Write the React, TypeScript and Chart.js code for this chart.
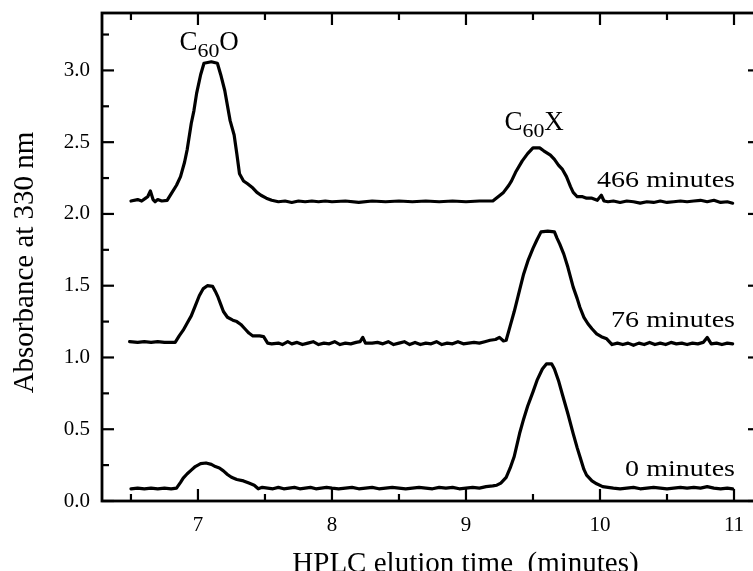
import React, { useEffect, useRef } from "react";
import { Chart, registerables } from "chart.js";

Chart.register(...registerables);

// ---- Data ----
const t466X = [6.5, 6.55, 6.58, 6.61, 6.625, 6.645, 6.665, 6.68, 6.7, 6.73, 6.77, 6.8, 6.84, 6.87, 6.9, 6.92, 6.95, 6.97, 6.99, 7.02, 7.045, 7.1, 7.145, 7.17, 7.2, 7.24, 7.27, 7.29, 7.31, 7.34, 7.37, 7.41, 7.44, 7.47, 7.51, 7.55, 7.6, 7.65, 7.7, 7.75, 7.8, 7.85, 7.9, 7.95, 8.0, 8.1, 8.2, 8.3, 8.4, 8.5, 8.6, 8.7, 8.8, 8.9, 9.0, 9.1, 9.2, 9.24, 9.28, 9.32, 9.34, 9.37, 9.42, 9.46, 9.5, 9.55, 9.58, 9.63, 9.66, 9.69, 9.72, 9.75, 9.78, 9.8, 9.83, 9.87, 9.9, 9.94, 9.98, 10.01, 10.03, 10.06, 10.1, 10.15, 10.2, 10.25, 10.3, 10.35, 10.4, 10.45, 10.5, 10.55, 10.6, 10.65, 10.7, 10.75, 10.8, 10.85, 10.9, 10.95, 10.99];
const t466Y = [2.09, 2.1, 2.09, 2.11, 2.12, 2.16, 2.1, 2.085, 2.1, 2.09, 2.095, 2.14, 2.2, 2.26, 2.36, 2.45, 2.63, 2.72, 2.84, 2.97, 3.05, 3.06, 3.05, 2.97, 2.86, 2.65, 2.55, 2.42, 2.28, 2.23, 2.21, 2.18, 2.15, 2.13, 2.11, 2.095, 2.085, 2.09, 2.08, 2.09, 2.085, 2.09, 2.085, 2.09, 2.085, 2.09, 2.08, 2.09, 2.085, 2.09, 2.085, 2.09, 2.085, 2.09, 2.085, 2.09, 2.09, 2.12, 2.15, 2.2, 2.23, 2.29, 2.37, 2.42, 2.46, 2.46, 2.44, 2.41, 2.38, 2.34, 2.31, 2.26, 2.19, 2.15, 2.12, 2.12, 2.11, 2.11, 2.095, 2.13, 2.09, 2.085, 2.09, 2.08, 2.09, 2.085, 2.075, 2.085, 2.08, 2.09, 2.08, 2.085, 2.09, 2.085, 2.09, 2.095, 2.085, 2.095, 2.08, 2.085, 2.075];

const t76X = [6.49, 6.55, 6.6, 6.65, 6.7, 6.75, 6.83, 6.86, 6.89, 6.92, 6.95, 6.98, 7.01, 7.04, 7.07, 7.11, 7.13, 7.15, 7.17, 7.19, 7.22, 7.26, 7.29, 7.32, 7.35, 7.38, 7.41, 7.46, 7.49, 7.52, 7.55, 7.6, 7.63, 7.67, 7.7, 7.74, 7.78, 7.82, 7.86, 7.9, 7.94, 7.98, 8.02, 8.06, 8.1, 8.14, 8.18, 8.21, 8.23, 8.25, 8.3, 8.34, 8.38, 8.42, 8.46, 8.5, 8.54, 8.58, 8.62, 8.66, 8.7, 8.74, 8.78, 8.82, 8.86, 8.9, 8.94, 8.98, 9.02, 9.06, 9.1, 9.14, 9.18, 9.22, 9.25, 9.28, 9.3, 9.33, 9.36, 9.4, 9.43, 9.465, 9.5, 9.53, 9.56, 9.61, 9.66, 9.68, 9.7, 9.73, 9.76, 9.78, 9.8, 9.83, 9.85, 9.88, 9.91, 9.94, 9.975, 10.01, 10.05, 10.09, 10.13, 10.17, 10.21, 10.25, 10.29, 10.33, 10.37, 10.41, 10.45, 10.49, 10.53, 10.57, 10.61, 10.65, 10.69, 10.73, 10.77, 10.8, 10.83, 10.87, 10.91, 10.95, 10.99];
const t76Y = [1.11, 1.105, 1.11, 1.105, 1.11, 1.105, 1.105, 1.15, 1.19, 1.24, 1.29, 1.36, 1.43, 1.48, 1.5, 1.495, 1.46, 1.42, 1.37, 1.32, 1.28, 1.26, 1.25, 1.23, 1.2, 1.17, 1.15, 1.15, 1.145, 1.1, 1.095, 1.1, 1.09, 1.11, 1.095, 1.105, 1.09, 1.1, 1.11, 1.09, 1.1, 1.095, 1.11, 1.09, 1.1, 1.095, 1.105, 1.11, 1.14, 1.1, 1.1, 1.105, 1.095, 1.11, 1.09, 1.1, 1.11, 1.09, 1.105, 1.09, 1.1, 1.095, 1.11, 1.09, 1.1, 1.095, 1.11, 1.095, 1.1, 1.105, 1.1, 1.11, 1.12, 1.125, 1.14, 1.115, 1.12, 1.22, 1.32, 1.47, 1.58, 1.68, 1.76, 1.82, 1.875, 1.88, 1.875, 1.83, 1.79, 1.72, 1.63, 1.56, 1.49, 1.41, 1.35, 1.28, 1.235, 1.2, 1.165, 1.145, 1.13, 1.09, 1.1, 1.09, 1.1, 1.085, 1.1, 1.09, 1.105, 1.09, 1.1, 1.09, 1.105, 1.095, 1.1, 1.09, 1.1, 1.095, 1.105, 1.14, 1.095, 1.1, 1.09, 1.1, 1.095];

const t0X = [6.5, 6.55, 6.6, 6.65, 6.7, 6.75, 6.8, 6.84, 6.87, 6.89, 6.92, 6.95, 6.98, 7.02, 7.06, 7.1, 7.13, 7.16, 7.19, 7.22, 7.25, 7.29, 7.34, 7.38, 7.42, 7.45, 7.48, 7.52, 7.56, 7.6, 7.64, 7.68, 7.72, 7.76, 7.8, 7.84, 7.88, 7.92, 7.96, 8.0, 8.05, 8.1, 8.15, 8.2, 8.25, 8.3, 8.35, 8.4, 8.45, 8.5, 8.55, 8.6, 8.65, 8.7, 8.75, 8.8, 8.85, 8.9, 8.95, 9.0, 9.05, 9.1, 9.15, 9.2, 9.23, 9.26, 9.3, 9.33, 9.36, 9.4, 9.43, 9.46, 9.5, 9.53, 9.57, 9.6, 9.64, 9.66, 9.69, 9.72, 9.76, 9.8, 9.83, 9.85, 9.88, 9.9, 9.94, 9.975, 10.02, 10.06, 10.1, 10.15, 10.2, 10.25, 10.3, 10.35, 10.4, 10.45, 10.5, 10.55, 10.6, 10.65, 10.7, 10.75, 10.8, 10.85, 10.9, 10.95, 10.99];
const t0Y = [0.085, 0.09, 0.085, 0.09, 0.085, 0.09, 0.085, 0.09, 0.13, 0.16, 0.19, 0.215, 0.24, 0.26, 0.265, 0.255, 0.24, 0.23, 0.21, 0.185, 0.165, 0.15, 0.14, 0.125, 0.11, 0.085, 0.095, 0.09, 0.085, 0.095, 0.085, 0.09, 0.095, 0.085, 0.09, 0.095, 0.085, 0.09, 0.095, 0.09, 0.085, 0.09, 0.095, 0.085, 0.09, 0.095, 0.085, 0.09, 0.095, 0.09, 0.085, 0.09, 0.095, 0.09, 0.085, 0.095, 0.09, 0.095, 0.085, 0.09, 0.095, 0.09, 0.1, 0.105, 0.11, 0.125, 0.165, 0.23, 0.31, 0.47, 0.57, 0.66, 0.76, 0.84, 0.92, 0.955, 0.955, 0.92, 0.84, 0.74, 0.61, 0.47, 0.37, 0.31, 0.22, 0.18, 0.14, 0.12, 0.1, 0.095, 0.09, 0.085, 0.09, 0.095, 0.085, 0.09, 0.095, 0.09, 0.085, 0.09, 0.095, 0.09, 0.095, 0.09, 0.1, 0.09, 0.085, 0.09, 0.085];

const xMajorTicks = [7, 8, 9, 10, 11];
const xMinorTicks = [6.5, 7.5, 8.5, 9.5, 10.5];
const yMajorTicks = [0, 0.5, 1, 1.5, 2, 2.5, 3];
const yMinorTicks = [0.25, 0.75, 1.25, 1.75, 2.25, 2.75, 3.25];

const traceLabels = ["466 minutes", "76 minutes", "0 minutes"];
const traceLabelBaselines = [186.5, 326.5, 476];
const peakNames = [
  { main: "C", sub: "60", tail: "O" },
  { main: "C", sub: "60", tail: "X" },
];
const xTitle = "HPLC elution time  (minutes)";
const yTitle = "Absorbance at 330 nm";

const W = 770;
const H = 571;
const SERIF = "'Liberation Serif', 'Times New Roman', serif";

const toPoints = (xs: number[], ys: number[]) => xs.map((x, i) => ({ x, y: ys[i] }));

const framePlugin = {
  id: "frame",
  afterDatasetsDraw(chart: any) {
    const { ctx, chartArea: a, scales } = chart;
    const xs = scales.x;
    const ys = scales.y;
    ctx.save();
    ctx.strokeStyle = "#000";
    ctx.lineWidth = 2.8;
    ctx.strokeRect(a.left, a.top, a.right - a.left, a.bottom - a.top);
    ctx.lineWidth = 2.2;
    const seg = (x1: number, y1: number, x2: number, y2: number) => {
      ctx.beginPath();
      ctx.moveTo(x1, y1);
      ctx.lineTo(x2, y2);
      ctx.stroke();
    };
    const xt = (vals: number[], len: number) =>
      vals.forEach((v) => {
        const p = xs.getPixelForValue(v);
        seg(p, a.bottom, p, a.bottom - len);
        seg(p, a.top, p, a.top + len);
      });
    const yt = (vals: number[], len: number) =>
      vals.forEach((v) => {
        const p = ys.getPixelForValue(v);
        seg(a.left, p, a.left + len, p);
        seg(a.right, p, a.right - len, p);
      });
    xt(xMajorTicks, 12);
    xt(xMinorTicks, 7);
    yt(yMajorTicks, 12);
    yt(yMinorTicks, 7);
    ctx.restore();
  },
  afterDraw(chart: any) {
    const { ctx } = chart;
    ctx.save();
    ctx.fillStyle = "#000";
    ctx.textBaseline = "alphabetic";

    // axis titles
    ctx.font = `29px ${SERIF}`;
    ctx.textAlign = "center";
    ctx.fillText(xTitle, 465.5, 572);
    ctx.save();
    ctx.translate(33, 262.5);
    ctx.rotate(-Math.PI / 2);
    ctx.fillText(yTitle, 0, 0);
    ctx.restore();

    // trace labels (right aligned, slightly wide lettering)
    ctx.font = `23px ${SERIF}`;
    ctx.textAlign = "right";
    traceLabels.forEach((t, i) => {
      ctx.save();
      ctx.translate(735, traceLabelBaselines[i]);
      ctx.scale(1.22, 1);
      ctx.fillText(t, 0, 0);
      ctx.restore();
    });

    // peak names
    const drawName = (n: any, x: number, base: number) => {
      ctx.textAlign = "left";
      ctx.font = `27px ${SERIF}`;
      ctx.fillText(n.main, x, base);
      let cx = x + ctx.measureText(n.main).width;
      ctx.font = `19px ${SERIF}`;
      ctx.save();
      ctx.translate(cx, base + 6.5);
      ctx.scale(1.15, 1);
      ctx.fillText(n.sub, 0, 0);
      const sw = ctx.measureText(n.sub).width * 1.15;
      ctx.restore();
      cx += sw;
      ctx.font = `27px ${SERIF}`;
      ctx.fillText(n.tail, cx, base);
    };
    drawName(peakNames[0], 179.5, 50);
    drawName(peakNames[1], 504.5, 130);
    ctx.restore();
  },
};

export default function App() {
  const ref = useRef<HTMLCanvasElement | null>(null);
  useEffect(() => {
    if (!ref.current) return;
    const lineStyle = {
      borderColor: "#000",
      borderWidth: 3.2,
      pointRadius: 0,
      tension: 0,
      fill: false,
      borderJoinStyle: "round",
      borderCapStyle: "round",
    };
    const chart = new Chart(ref.current, {
      type: "line",
      data: {
        datasets: [
          { label: traceLabels[0], data: toPoints(t466X, t466Y), ...lineStyle },
          { label: traceLabels[1], data: toPoints(t76X, t76Y), ...lineStyle },
          { label: traceLabels[2], data: toPoints(t0X, t0Y), ...lineStyle },
        ],
      },
      options: {
        animation: false,
        responsive: false,
        devicePixelRatio: 1,
        layout: { padding: { top: 13, right: W - 760, left: 0, bottom: 0 } },
        plugins: { legend: { display: false }, tooltip: { enabled: false } },
        scales: {
          x: {
            type: "linear",
            min: 6.284,
            max: 11.194,
            afterBuildTicks: (s: any) => {
              s.ticks = xMajorTicks.map((v) => ({ value: v }));
            },
            afterFit: (s: any) => {
              s.height = H - 501;
              s.paddingLeft = 0;
              s.paddingRight = 0;
            },
            grid: { display: false, drawTicks: false },
            border: { display: false },
            ticks: {
              font: { family: SERIF, size: 21 },
              color: "#000",
              padding: 12,
              maxRotation: 0,
              autoSkip: false,
              callback: (v: any) => String(v),
            },
          },
          y: {
            type: "linear",
            min: 0,
            max: 3.4,
            afterBuildTicks: (s: any) => {
              s.ticks = yMajorTicks.map((v) => ({ value: v }));
            },
            afterFit: (s: any) => {
              s.width = 102;
              s.paddingTop = 0;
              s.paddingBottom = 0;
            },
            grid: { display: false, drawTicks: false },
            border: { display: false },
            ticks: {
              font: { family: SERIF, size: 21 },
              color: "#000",
              padding: 12,
              autoSkip: false,
              callback: (v: any) => Number(v).toFixed(1),
            },
          },
        },
      },
      plugins: [framePlugin],
    } as any);
    return () => chart.destroy();
  }, []);

  return (
    <div
      style={{
        position: "fixed",
        left: 0,
        top: 0,
        width: 753,
        height: 571,
        overflow: "hidden",
        background: "#fff",
      }}
    >
      <canvas ref={ref} width={W} height={H} style={{ display: "block", width: W, height: H }} />
    </div>
  );
}
